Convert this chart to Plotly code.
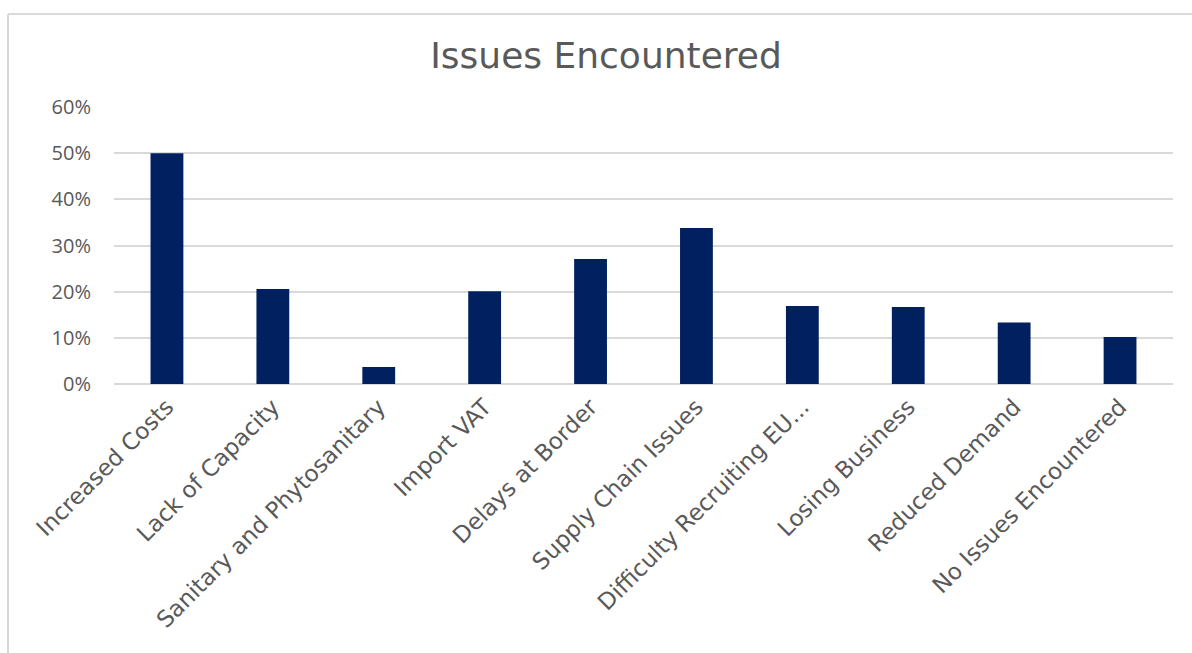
import plotly.graph_objects as go

# Survey results: share of respondents reporting each issue
categories = [
    "Increased Costs",
    "Lack of Capacity",
    "Sanitary and Phytosanitary",
    "Import VAT",
    "Delays at Border",
    "Supply Chain Issues",
    "Difficulty Recruiting EU...",
    "Losing Business",
    "Reduced Demand",
    "No Issues Encountered",
]
shares = [0.50, 0.206, 0.037, 0.201, 0.271, 0.338, 0.169, 0.167, 0.133, 0.102]
y_ticks = [0, 0.1, 0.2, 0.3, 0.4, 0.5, 0.6]

W, H = 1192, 653
L, R, T, B = 114, 19, 107, 269

fig = go.Figure(
    go.Bar(
        x=categories,
        y=shares,
        marker=dict(color="#002060", line=dict(width=0)),
        hoverinfo="skip",
    )
)

gray = "#595959"
grid = "#d9d9d9"
label_font = "DejaVu Sans, Verdana, sans-serif"

fig.update_layout(
    width=W,
    height=H,
    margin=dict(l=L, r=R, t=T, b=B, autoexpand=False),
    paper_bgcolor="white",
    plot_bgcolor="white",
    bargap=0.69,
    showlegend=False,
    title=dict(
        text="Issues Encountered",
        x=606 / W,
        xanchor="center",
        xref="container",
        y=1 - 55 / H,
        yanchor="middle",
        yref="container",
        font=dict(family=label_font, size=36, color=gray),
    ),
    xaxis=dict(
        tickangle=-45,
        tickfont=dict(family=label_font, size=23, color=gray),
        showgrid=False,
        showline=False,
        ticks="",
        ticklabelstandoff=4,
    ),
    yaxis=dict(
        range=[0, 0.6],
        tickvals=y_ticks,
        tickformat=".0%",
        tickfont=dict(family="Open Sans, sans-serif", size=20, color=gray),
        showgrid=True,
        gridcolor=grid,
        gridwidth=1.5,
        zeroline=True,
        zerolinecolor=grid,
        zerolinewidth=1.5,
        showline=False,
        ticks="",
        ticklabelstandoff=22,
    ),
)

# Light frame around the chart area (left and top edges)
pw = W - L - R
ph = H - T - B
fx = (8 - L) / pw
fy = 1 + (T - 14) / ph
fig.add_shape(type="line", xref="paper", yref="paper", x0=fx, x1=fx, y0=fy, y1=-2,
              line=dict(color=grid, width=2))
fig.add_shape(type="line", xref="paper", yref="paper", x0=fx, x1=2, y0=fy, y1=fy,
              line=dict(color=grid, width=2))

fig.write_html("out.html")
